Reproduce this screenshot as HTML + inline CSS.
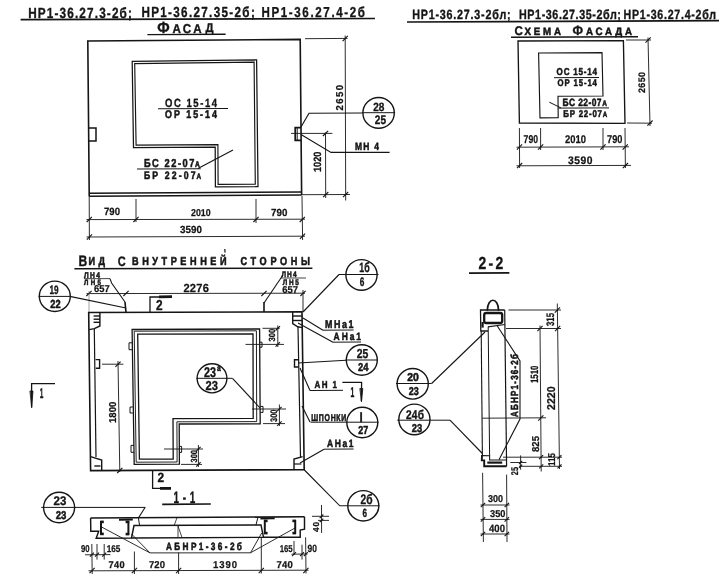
<!DOCTYPE html>
<html lang="ru">
<head>
<meta charset="utf-8">
<title>НР1-36.27 — фасад, вид с внутренней стороны, разрезы</title>
<style>
html,body{margin:0;padding:0;background:#fff;}
body{width:725px;height:583px;overflow:hidden;}
svg{display:block;filter:grayscale(1);}
svg text{font-family:"Liberation Sans",sans-serif;font-weight:700;text-rendering:geometricPrecision;fill:#151515;stroke:#151515;stroke-width:0.35px;stroke-linejoin:round;}
svg text.d{stroke-width:0.25px;}
svg .s{stroke-width:0.55px;}
</style>
</head>
<body>
<svg width="725" height="583" viewBox="0 0 725 583">
<rect x="0" y="0" width="725" height="583" fill="#ffffff"/>
<text transform="translate(28.2 17.5) scale(0.800 1)"><tspan x="0" y="0" font-size="14.71" letter-spacing="1.43">НР1-36.27.3-2б;</tspan> <tspan x="141.5" y="-0.2" font-size="14.57" letter-spacing="1.67">НР1-36.27.35-2б;</tspan> <tspan x="291.5" y="-0.4" font-size="14.43" letter-spacing="2.06">НР1-36.27.4-2б</tspan></text>
<line x1="20.6" y1="19.6" x2="375" y2="18.5" stroke="#151515" stroke-width="1.6"/>
<text transform="translate(157.2 33.3) scale(0.900 1)"><tspan x="0" y="0" font-size="16.14">Ф</tspan><tspan x="16.89" y="-0.5" font-size="12.86" letter-spacing="2.61">АСА</tspan><tspan x="53.78" y="-0.9" font-size="12.57">Д</tspan></text>
<line x1="147.4" y1="34.6" x2="225.6" y2="34.3" stroke="#151515" stroke-width="1.4"/>
<polyline points="89.2,193.2 87.8,41 300.2,39.4 301.6,192" fill="none" stroke="#151515" stroke-width="1.6" stroke-linejoin="miter"/>
<line x1="89.2" y1="193.2" x2="301.6" y2="192" stroke="#151515" stroke-width="1.6"/>
<line x1="89.2" y1="196.2" x2="301.7" y2="195" stroke="#151515" stroke-width="1.6"/>
<line x1="89.2" y1="193" x2="89.2" y2="196.2" stroke="#151515" stroke-width="1.6"/>
<line x1="301.6" y1="192" x2="301.7" y2="195" stroke="#151515" stroke-width="1.6"/>
<polyline points="89,128 96,128 96,141 89,141" fill="none" stroke="#151515" stroke-width="1.5" stroke-linejoin="miter"/>
<polyline points="301,127.6 295.2,127.6 295.2,140.4 301,140.4" fill="none" stroke="#151515" stroke-width="1.7" stroke-linejoin="miter"/>
<line x1="297.2" y1="128" x2="297.2" y2="140" stroke="#151515" stroke-width="1"/>
<polygon points="132.2,61.4 256.6,59.8 258,186.6 215.4,186.9 215.2,147.1 133.5,147.5" fill="none" stroke="#151515" stroke-width="1.25" stroke-linejoin="miter"/>
<polygon points="134.7,63.6 254.1,62.2 255.3,184.1 218.1,184.4 217.9,144.7 136.1,145.1" fill="none" stroke="#151515" stroke-width="1.15" stroke-linejoin="miter"/>
<text transform="translate(165 106.5) scale(0.800 1)" font-size="11.86" letter-spacing="1.94">ОС 15-14</text>
<line x1="158" y1="108.7" x2="228" y2="108.5" stroke="#151515" stroke-width="1.1"/>
<text class="s" transform="translate(165 118.2) scale(0.800 1)" font-size="11.14" letter-spacing="2.47">ОР 15-14</text>
<text transform="translate(144 166.9) scale(0.800 1)"><tspan class="s" x="0" y="0" font-size="11.57" letter-spacing="1.97">БС 22-07</tspan><tspan class="s" x="63.75" y="-0.1" font-size="8.29">А</tspan></text>
<line x1="137" y1="169" x2="200.7" y2="168.7" stroke="#151515" stroke-width="1.1"/>
<text transform="translate(144 178.8) scale(0.800 1)"><tspan class="s" x="0" y="0" font-size="10.86" letter-spacing="2.65">БР 22-07</tspan><tspan class="s" x="65.62" y="0.6" font-size="8">А</tspan></text>
<line x1="198" y1="168.4" x2="233" y2="150" stroke="#151515" stroke-width="1.1"/>
<line x1="89.2" y1="196" x2="89.4" y2="240" stroke="#151515" stroke-width="0.9"/>
<line x1="136" y1="199" x2="136" y2="222" stroke="#151515" stroke-width="0.9"/>
<line x1="256" y1="199" x2="256" y2="223" stroke="#151515" stroke-width="0.9"/>
<line x1="302" y1="196" x2="302.6" y2="240" stroke="#151515" stroke-width="0.9"/>
<line x1="86.5" y1="219.6" x2="305" y2="219.2" stroke="#151515" stroke-width="0.9"/>
<line x1="86.7" y1="222" x2="91.9" y2="216.8" stroke="#151515" stroke-width="1.1"/>
<line x1="133.4" y1="222" x2="138.6" y2="216.8" stroke="#151515" stroke-width="1.1"/>
<line x1="253.4" y1="222" x2="258.6" y2="216.8" stroke="#151515" stroke-width="1.1"/>
<line x1="299.7" y1="222" x2="304.9" y2="216.8" stroke="#151515" stroke-width="1.1"/>
<line x1="86.5" y1="237" x2="305" y2="236.2" stroke="#151515" stroke-width="0.9"/>
<line x1="86.8" y1="239.6" x2="92" y2="234.4" stroke="#151515" stroke-width="1.1"/>
<line x1="299.9" y1="238.9" x2="305.1" y2="233.7" stroke="#151515" stroke-width="1.1"/>
<text class="d" transform="translate(104 215.4) scale(0.907 1)" font-size="10.57">790</text>
<text class="d" transform="translate(191 216) scale(0.881 1)" font-size="10">2010</text>
<text class="d" transform="translate(271 215.6) scale(0.950 1)" font-size="10.29" letter-spacing="0.05">790</text>
<text class="d" transform="translate(180 232.8) scale(0.950 1)" font-size="10.29" letter-spacing="0.09">3590</text>
<line x1="305" y1="38.7" x2="347.5" y2="38.4" stroke="#151515" stroke-width="0.9"/>
<line x1="302" y1="194.7" x2="350" y2="194.5" stroke="#151515" stroke-width="0.9"/>
<line x1="345.2" y1="35.5" x2="345.7" y2="200.5" stroke="#151515" stroke-width="0.9"/>
<line x1="342.6" y1="41.1" x2="347.8" y2="35.9" stroke="#151515" stroke-width="1.1"/>
<line x1="343" y1="197.2" x2="348.2" y2="192" stroke="#151515" stroke-width="1.1"/>
<text class="d" transform="translate(342.6 110.6) rotate(-90) scale(0.950 1)" font-size="10" letter-spacing="1.57">2650</text>
<line x1="291" y1="133.4" x2="332.4" y2="133.4" stroke="#151515" stroke-width="0.9"/>
<line x1="325.5" y1="132.6" x2="325.7" y2="198" stroke="#151515" stroke-width="0.9"/>
<line x1="322.9" y1="136" x2="328.1" y2="130.8" stroke="#151515" stroke-width="1.1"/>
<line x1="323.1" y1="197.2" x2="328.3" y2="192" stroke="#151515" stroke-width="1.1"/>
<text class="d" transform="translate(321 172) rotate(-90) scale(0.868 1)" font-size="10.57">1020</text>
<text class="s" transform="translate(355 150.4) scale(0.800 1)" font-size="10.57" letter-spacing="1.58">МН 4</text>
<polyline points="301,134.4 331,152.4 389.6,152.4" fill="none" stroke="#151515" stroke-width="1.15" stroke-linejoin="miter"/>
<polyline points="301,127 309,113.2 362,113" fill="none" stroke="#151515" stroke-width="1.15" stroke-linejoin="miter"/>
<ellipse cx="378.6" cy="112.9" rx="15.7" ry="15.4" fill="none" stroke="#151515" stroke-width="1.4"/>
<line x1="362" y1="112.7" x2="395.1" y2="112.7" stroke="#151515" stroke-width="1"/>
<text transform="translate(373.2 110.7) scale(0.839 1)" font-size="12">28</text>
<text transform="translate(374.8 124.4) scale(0.810 1)" font-size="12.43">25</text>
<text transform="translate(412.2 18.9) scale(0.800 1)"><tspan x="0" y="0" font-size="13.43" letter-spacing="0.98">НР1-36.27.3-2бл;</tspan> <tspan x="133.5" y="-0.1" font-size="13.43" letter-spacing="0.73">НР1-36.27.35-2бл;</tspan> <tspan x="264.25" y="-0.4" font-size="13.29" letter-spacing="0.91">НР1-36.27.4-2бл</tspan></text>
<line x1="407" y1="22" x2="719" y2="20.7" stroke="#151515" stroke-width="1.7"/>
<text transform="translate(514.6 35) scale(0.920 1)"><tspan x="0" y="0" font-size="12.57">С</tspan><tspan class="s" x="10.87" y="-0.1" font-size="10.57" letter-spacing="3.01">ХЕМА</tspan> <tspan x="63.04" y="0.4" font-size="13.43">Ф</tspan><tspan class="s" x="77.61" y="-0.1" font-size="10.57" letter-spacing="3.02">АСАДА</tspan></text>
<line x1="511" y1="37.2" x2="638" y2="36.8" stroke="#151515" stroke-width="1.4"/>
<polygon points="518,41 623.4,40.6 625,123.4 519.4,123" fill="none" stroke="#151515" stroke-width="1.35" stroke-linejoin="miter"/>
<polygon points="538.6,53 602,52.6 603,96 558,96.2 558.2,117.6 540,117.8" fill="none" stroke="#151515" stroke-width="1.15" stroke-linejoin="miter"/>
<text class="s" transform="translate(556.6 74.6) scale(0.800 1)" font-size="10" letter-spacing="1.02">ОС 15-14</text>
<line x1="554" y1="77.7" x2="599" y2="77.5" stroke="#151515" stroke-width="1"/>
<text class="s" transform="translate(557.5 86.4) scale(0.800 1)" font-size="9.71" letter-spacing="1.11">ОР 15-14</text>
<text transform="translate(562.6 105.9) scale(0.800 1)"><tspan class="s" x="0" y="0" font-size="10.57" letter-spacing="0.51">БС 22-07</tspan><tspan class="s" x="49.5" y="0.2" font-size="8.14">А</tspan></text>
<line x1="558.4" y1="108.1" x2="609" y2="107.9" stroke="#151515" stroke-width="1"/>
<text transform="translate(563.2 116.6) scale(0.800 1)"><tspan class="s" x="0" y="0" font-size="9.86" letter-spacing="0.98">БР 22-07</tspan><tspan class="s" x="49.5" y="0.2" font-size="7.71">А</tspan></text>
<line x1="549.3" y1="102.2" x2="561" y2="107.9" stroke="#151515" stroke-width="1"/>
<line x1="519.4" y1="128" x2="519.6" y2="168" stroke="#151515" stroke-width="0.9"/>
<line x1="540.6" y1="128" x2="540.6" y2="150" stroke="#151515" stroke-width="0.9"/>
<line x1="603" y1="128" x2="603" y2="150" stroke="#151515" stroke-width="0.9"/>
<line x1="625" y1="128" x2="625.4" y2="168" stroke="#151515" stroke-width="0.9"/>
<line x1="516.5" y1="147.2" x2="629" y2="146.8" stroke="#151515" stroke-width="0.9"/>
<line x1="516.5" y1="165.8" x2="631" y2="165.4" stroke="#151515" stroke-width="0.9"/>
<line x1="516.9" y1="149.6" x2="522.1" y2="144.4" stroke="#151515" stroke-width="1.1"/>
<line x1="538" y1="149.6" x2="543.2" y2="144.4" stroke="#151515" stroke-width="1.1"/>
<line x1="600.4" y1="149.6" x2="605.6" y2="144.4" stroke="#151515" stroke-width="1.1"/>
<line x1="622.6" y1="149.6" x2="627.8" y2="144.4" stroke="#151515" stroke-width="1.1"/>
<line x1="517" y1="168.2" x2="522.2" y2="163" stroke="#151515" stroke-width="1.1"/>
<line x1="622.8" y1="168.2" x2="628" y2="163" stroke="#151515" stroke-width="1.1"/>
<text class="d" transform="translate(523.6 143) scale(0.755 1)" font-size="11.43">790</text>
<text class="d" transform="translate(565 143.2) scale(0.847 1)" font-size="11.14">2010</text>
<text class="d" transform="translate(607 143) scale(0.808 1)" font-size="11.43">790</text>
<text class="d" transform="translate(568 163.6) scale(0.950 1)" font-size="10.86" letter-spacing="0.51">3590</text>
<line x1="626" y1="40" x2="651" y2="40" stroke="#151515" stroke-width="0.9"/>
<line x1="627" y1="123" x2="652" y2="123.2" stroke="#151515" stroke-width="0.9"/>
<line x1="648" y1="37.5" x2="650" y2="126" stroke="#151515" stroke-width="0.9"/>
<line x1="645.5" y1="42.6" x2="650.7" y2="37.4" stroke="#151515" stroke-width="1.1"/>
<line x1="647.4" y1="125.7" x2="652.6" y2="120.5" stroke="#151515" stroke-width="1.1"/>
<text class="d" transform="translate(645 93) rotate(-90) scale(0.950 1)" font-size="9.43" letter-spacing="0.38">2650</text>
<text transform="translate(78.4 265.6) scale(0.800 1)"><tspan x="0" y="0" font-size="15.14">В</tspan><tspan class="s" x="12.5" y="-0.2" font-size="11.43" letter-spacing="4.39">ИД</tspan> <tspan x="49.25" y="0.3" font-size="13.71">С</tspan> <tspan class="s" x="67" y="-0.4" font-size="11.43" letter-spacing="4.45">ВНУТРЕННЕЙ</tspan> <tspan class="s" x="202.75" y="-0.6" font-size="11.43" letter-spacing="4.56">СТОРОНЫ</tspan></text>
<line x1="224.8" y1="249" x2="225.1" y2="252.6" stroke="#151515" stroke-width="1.2"/>
<line x1="74.4" y1="268.8" x2="312.4" y2="268.2" stroke="#151515" stroke-width="1.5"/>
<polygon points="88.7,312.5 302,311.8 304.2,469.7 90.6,470.6" fill="none" stroke="#151515" stroke-width="1.6" stroke-linejoin="miter"/>
<line x1="94.3" y1="329" x2="96" y2="457" stroke="#151515" stroke-width="1.2"/>
<line x1="298" y1="327" x2="300.5" y2="457" stroke="#151515" stroke-width="1.2"/>
<polyline points="99.9,312.5 99.9,326 94.3,328.6 89.2,329.6" fill="none" stroke="#151515" stroke-width="1.4" stroke-linejoin="miter"/>
<line x1="93.6" y1="316" x2="99.9" y2="316" stroke="#151515" stroke-width="1.4"/>
<line x1="93.6" y1="319.2" x2="99.9" y2="319.2" stroke="#151515" stroke-width="1.4"/>
<line x1="93.6" y1="322.3" x2="99.9" y2="322.3" stroke="#151515" stroke-width="1.4"/>
<polyline points="292.7,312 292.7,323.6 297.7,326.8 302.3,327.6" fill="none" stroke="#151515" stroke-width="1.4" stroke-linejoin="miter"/>
<line x1="292.7" y1="316" x2="302" y2="316" stroke="#151515" stroke-width="1.4"/>
<line x1="292.7" y1="320.5" x2="302" y2="320.5" stroke="#151515" stroke-width="1.4"/>
<polyline points="90.5,456.6 101.7,460 101.7,470.5" fill="none" stroke="#151515" stroke-width="1.4" stroke-linejoin="miter"/>
<line x1="94.3" y1="466" x2="100.5" y2="466" stroke="#151515" stroke-width="1.4"/>
<polyline points="294,470 294,459 302.6,456.6" fill="none" stroke="#151515" stroke-width="1.4" stroke-linejoin="miter"/>
<line x1="294" y1="464" x2="301.4" y2="464" stroke="#151515" stroke-width="1.2"/>
<polyline points="95.6,359.6 99.6,359.6 99.6,368.3 95.8,368.3" fill="none" stroke="#151515" stroke-width="1.4" stroke-linejoin="miter"/>
<polyline points="298.4,359.8 294.5,359.8 294.5,367 298.6,367" fill="none" stroke="#151515" stroke-width="1.4" stroke-linejoin="miter"/>
<polygon points="132.1,329.5 259.6,329 260.2,423.8 179.2,424 179.4,464.2 134.2,464.4" fill="none" stroke="#151515" stroke-width="1.3" stroke-linejoin="miter"/>
<polygon points="134.2,331.2 256.4,330.8 256.7,421.6 176.9,421.8 177.1,462 136.2,462.2" fill="none" stroke="#151515" stroke-width="0.95" stroke-linejoin="miter"/>
<polygon points="137.7,334.1 253,333.9 253.2,418.4 173,418.6 173.2,459 139.4,459.2" fill="none" stroke="#151515" stroke-width="1.3" stroke-linejoin="miter"/>
<polyline points="132.3,342.8 129,342.8 129,349.7 132.3,349.7" fill="none" stroke="#151515" stroke-width="1" stroke-linejoin="miter"/>
<polyline points="132.8,407 130,407 130,413 132.8,413" fill="none" stroke="#151515" stroke-width="1" stroke-linejoin="miter"/>
<polyline points="134,445.4 131,445.4 131,452.3 134,452.3" fill="none" stroke="#151515" stroke-width="1" stroke-linejoin="miter"/>
<polyline points="259.8,342.2 262,342.2 262,347.2 259.8,347.2" fill="none" stroke="#151515" stroke-width="1" stroke-linejoin="miter"/>
<polyline points="260.2,406.4 263,406.4 263,412.4 260.2,412.4" fill="none" stroke="#151515" stroke-width="1" stroke-linejoin="miter"/>
<polyline points="179.2,446.4 181.6,446.4 181.6,452.4 179.2,452.4" fill="none" stroke="#151515" stroke-width="1" stroke-linejoin="miter"/>
<line x1="86.5" y1="293.6" x2="305" y2="293.2" stroke="#151515" stroke-width="0.9"/>
<line x1="86.4" y1="296" x2="91.6" y2="290.8" stroke="#151515" stroke-width="1.1"/>
<line x1="123.4" y1="296" x2="128.6" y2="290.8" stroke="#151515" stroke-width="1.1"/>
<line x1="261.4" y1="296" x2="266.6" y2="290.8" stroke="#151515" stroke-width="1.1"/>
<line x1="300.4" y1="296" x2="305.6" y2="290.8" stroke="#151515" stroke-width="1.1"/>
<line x1="89" y1="291" x2="89" y2="312" stroke="#666" stroke-width="0.6"/>
<line x1="303" y1="290" x2="303" y2="312" stroke="#151515" stroke-width="0.9"/>
<text class="d" transform="translate(94 292) scale(0.935 1)" font-size="10">657</text>
<text class="d" transform="translate(183.4 292) scale(0.950 1)" font-size="11.71" letter-spacing="0.3">2276</text>
<text class="d" transform="translate(282.2 292.6) scale(0.947 1)" font-size="10">657</text>
<text class="s" transform="translate(84 277.6) scale(0.800 1)" font-size="8.29" letter-spacing="1.8">ЛН4</text>
<line x1="84" y1="278.7" x2="110" y2="278.6" stroke="#151515" stroke-width="0.8"/>
<text class="s" transform="translate(84 285.2) scale(0.800 1)" font-size="7.71" letter-spacing="2.99">ЛН5</text>
<polyline points="110,278.6 111.6,283 125,302" fill="none" stroke="#151515" stroke-width="1.1" stroke-linejoin="miter"/>
<line x1="125" y1="302" x2="126" y2="312.4" stroke="#151515" stroke-width="1.6"/>
<text class="s" transform="translate(281.4 276.5) scale(0.800 1)" font-size="8.14" letter-spacing="1.44">ЛН4</text>
<line x1="281" y1="278" x2="306" y2="278" stroke="#151515" stroke-width="0.8"/>
<text class="s" transform="translate(282.8 285.4) scale(0.800 1)" font-size="8" letter-spacing="2.08">ЛН5</text>
<line x1="283" y1="275" x2="264" y2="303" stroke="#151515" stroke-width="1.1"/>
<line x1="264" y1="302" x2="264" y2="312" stroke="#151515" stroke-width="1.6"/>
<ellipse cx="54.8" cy="296.3" rx="15.5" ry="15.2" fill="none" stroke="#151515" stroke-width="1.4"/>
<line x1="38.6" y1="296.4" x2="71" y2="296.4" stroke="#151515" stroke-width="1"/>
<line x1="71" y1="296.6" x2="126" y2="308" stroke="#151515" stroke-width="1.1"/>
<text transform="translate(49.5 294) scale(0.666 1)" font-size="12.29">19</text>
<text class="s" transform="translate(50.3 308) scale(0.791 1)" font-size="11.71">22</text>
<ellipse cx="361.5" cy="274.9" rx="15.6" ry="15.3" fill="none" stroke="#151515" stroke-width="1.4"/>
<line x1="339" y1="274.5" x2="378.5" y2="274.5" stroke="#151515" stroke-width="1"/>
<line x1="339" y1="274.5" x2="303" y2="312" stroke="#151515" stroke-width="1.1"/>
<text transform="translate(359.3 271.9) scale(0.653 1)" font-size="13.57">1б</text>
<text transform="translate(359.7 286.4) scale(0.666 1)" font-size="12.43">6</text>
<polyline points="150,312 150,297 172,297" fill="none" stroke="#151515" stroke-width="1.3" stroke-linejoin="miter"/>
<line x1="159" y1="296.8" x2="172" y2="296.6" stroke="#151515" stroke-width="2.8"/>
<text transform="translate(156 310) scale(0.831 1)" font-size="14.29">2</text>
<polyline points="152.6,471 152.6,488.4 171,488.4" fill="none" stroke="#151515" stroke-width="1.3" stroke-linejoin="miter"/>
<line x1="160" y1="488.4" x2="171" y2="488.4" stroke="#151515" stroke-width="2.8"/>
<text transform="translate(157.4 482.4) scale(0.884 1)" font-size="13.43">2</text>
<text class="s" transform="translate(325 328.4) scale(0.800 1)" font-size="11.14" letter-spacing="2.01">МНа1</text>
<line x1="323" y1="330.2" x2="353.6" y2="330" stroke="#151515" stroke-width="1"/>
<line x1="303" y1="318" x2="323" y2="330.2" stroke="#151515" stroke-width="1.1"/>
<text class="s" transform="translate(333.6 340) scale(0.800 1)" font-size="10.57" letter-spacing="2.41">АНа1</text>
<line x1="333" y1="342.2" x2="361" y2="342" stroke="#151515" stroke-width="1"/>
<line x1="298" y1="323" x2="333" y2="342.2" stroke="#151515" stroke-width="1.1"/>
<ellipse cx="361.8" cy="360" rx="15.5" ry="15.2" fill="none" stroke="#151515" stroke-width="1.4"/>
<line x1="345.7" y1="360" x2="378" y2="360" stroke="#151515" stroke-width="1"/>
<line x1="346" y1="360.2" x2="298" y2="363" stroke="#151515" stroke-width="1.1"/>
<text transform="translate(356.8 357.9) scale(0.802 1)" font-size="13">25</text>
<text class="s" transform="translate(358 371.2) scale(0.818 1)" font-size="11.43">24</text>
<text class="s" transform="translate(314.4 388) scale(0.800 1)" font-size="10" letter-spacing="1.82">АН 1</text>
<line x1="310" y1="390.5" x2="343" y2="390.3" stroke="#151515" stroke-width="1"/>
<line x1="300" y1="368" x2="310" y2="390.5" stroke="#151515" stroke-width="1.1"/>
<polyline points="342.4,382.4 361.6,382.4 361.4,401" fill="none" stroke="#151515" stroke-width="1.3" stroke-linejoin="miter"/>
<path d="M360.2,388.5 L362.8,388.5 L361.5,401.5 Z" fill="#151515" stroke="#151515" stroke-width="0.8" stroke-linecap="round"/>
<text transform="translate(350.6 397) scale(0.478 1)" font-size="14.29">1</text>
<polyline points="55,383.6 31.6,383.6 31.6,407" fill="none" stroke="#151515" stroke-width="1.3" stroke-linejoin="miter"/>
<path d="M30.3,391 L33,391 L31.7,407.5 Z" fill="#151515" stroke="#151515" stroke-width="0.8" stroke-linecap="round"/>
<text transform="translate(39.8 398) scale(0.453 1)" font-size="14.29">1</text>
<ellipse cx="362.3" cy="422.5" rx="15.5" ry="15.2" fill="none" stroke="#151515" stroke-width="1.4"/>
<line x1="310.5" y1="422.2" x2="378.5" y2="422.2" stroke="#151515" stroke-width="1"/>
<line x1="302" y1="406" x2="310" y2="422" stroke="#151515" stroke-width="1.1"/>
<text class="s" transform="translate(311.2 420.7) scale(0.700 1)" font-size="9.86" letter-spacing="1.05">ШПОНКИ</text>
<text transform="translate(359.4 421.6) scale(0.806 1)" font-size="14.29">I</text>
<text class="s" transform="translate(358.3 433.8) scale(0.777 1)" font-size="11.57">27</text>
<text class="s" transform="translate(327 447) scale(0.800 1)" font-size="10.57" letter-spacing="2.07">АНа1</text>
<line x1="324" y1="449.2" x2="353.6" y2="449" stroke="#151515" stroke-width="1"/>
<line x1="324" y1="449.2" x2="300" y2="463" stroke="#151515" stroke-width="1.1"/>
<polyline points="304.4,470 339.8,505.8 347.6,505.8" fill="none" stroke="#151515" stroke-width="1.1" stroke-linejoin="miter"/>
<ellipse cx="363.3" cy="505.8" rx="15.5" ry="15.2" fill="none" stroke="#151515" stroke-width="1.4"/>
<line x1="347.6" y1="505.8" x2="379.5" y2="505.8" stroke="#151515" stroke-width="1"/>
<text transform="translate(360.5 503.7) scale(0.738 1)" font-size="13.86">2б</text>
<text transform="translate(362.6 517.2) scale(0.682 1)" font-size="11.86">6</text>
<line x1="102" y1="364.2" x2="123.4" y2="364.2" stroke="#151515" stroke-width="0.9"/>
<line x1="118" y1="361" x2="119.8" y2="472" stroke="#151515" stroke-width="0.9"/>
<line x1="115.4" y1="366.8" x2="120.6" y2="361.6" stroke="#151515" stroke-width="1.1"/>
<line x1="117.2" y1="473" x2="122.4" y2="467.8" stroke="#151515" stroke-width="1.1"/>
<text class="d" transform="translate(116 423) rotate(-90) scale(0.950 1)" font-size="10" letter-spacing="0.09">1800</text>
<line x1="262.5" y1="328.3" x2="279.7" y2="328.3" stroke="#151515" stroke-width="0.9"/>
<line x1="245.5" y1="344.4" x2="284" y2="344.4" stroke="#151515" stroke-width="0.9"/>
<line x1="277.8" y1="325.5" x2="277.8" y2="347" stroke="#151515" stroke-width="0.9"/>
<line x1="275.6" y1="330.5" x2="280" y2="326.1" stroke="#151515" stroke-width="1.1"/>
<line x1="275.6" y1="346.6" x2="280" y2="342.2" stroke="#151515" stroke-width="1.1"/>
<text class="d" transform="translate(274.7 341.6) rotate(-90) scale(0.866 1)" font-size="8.86">300</text>
<line x1="252" y1="409" x2="286" y2="409" stroke="#151515" stroke-width="0.9"/>
<line x1="263" y1="423.6" x2="285" y2="423.6" stroke="#151515" stroke-width="0.9"/>
<line x1="279.4" y1="404.5" x2="279.4" y2="426" stroke="#151515" stroke-width="0.9"/>
<line x1="277.2" y1="411.2" x2="281.6" y2="406.8" stroke="#151515" stroke-width="1.1"/>
<line x1="277.2" y1="425.8" x2="281.6" y2="421.4" stroke="#151515" stroke-width="1.1"/>
<text class="d" transform="translate(277 422) rotate(-90) scale(0.788 1)" font-size="9.43">300</text>
<line x1="164" y1="449" x2="203" y2="449" stroke="#151515" stroke-width="0.9"/>
<line x1="198.4" y1="445" x2="198.4" y2="467" stroke="#151515" stroke-width="0.9"/>
<line x1="196.2" y1="451.2" x2="200.6" y2="446.8" stroke="#151515" stroke-width="1.1"/>
<line x1="196.2" y1="466.6" x2="200.6" y2="462.2" stroke="#151515" stroke-width="1.1"/>
<line x1="181" y1="464.4" x2="202" y2="464.4" stroke="#151515" stroke-width="0.9"/>
<text class="d" transform="translate(196.8 462.4) rotate(-90) scale(0.839 1)" font-size="8.86">300</text>
<ellipse cx="212" cy="378.3" rx="14.9" ry="14.6" fill="none" stroke="#151515" stroke-width="1.4"/>
<line x1="196.5" y1="378.3" x2="232.5" y2="378.3" stroke="#151515" stroke-width="1"/>
<line x1="232.5" y1="378.3" x2="260" y2="408" stroke="#151515" stroke-width="1.1"/>
<text transform="translate(204 376.8) scale(0.771 1)"><tspan x="0" y="0" font-size="14">23</tspan><tspan class="s" x="16.87" y="-5.4" font-size="8.57">а</tspan></text>
<text transform="translate(205.6 390.4) scale(0.867 1)" font-size="12.86">23</text>
<ellipse cx="59.1" cy="507.5" rx="15.5" ry="15.2" fill="none" stroke="#151515" stroke-width="1.4"/>
<line x1="41.2" y1="507.4" x2="145.2" y2="507.4" stroke="#151515" stroke-width="1"/>
<line x1="145.2" y1="507.2" x2="138.4" y2="518" stroke="#151515" stroke-width="1.1"/>
<text transform="translate(53.6 504.7) scale(0.926 1)" font-size="12.43">23</text>
<text class="s" transform="translate(55.7 519.2) scale(0.852 1)" font-size="11.29">23</text>
<text transform="translate(173.6 502.6) scale(0.600 1)" font-size="16.57" letter-spacing="6.11">1-1</text>
<line x1="162.2" y1="504.4" x2="210.8" y2="504" stroke="#151515" stroke-width="1.6"/>
<line x1="90.6" y1="518" x2="304.5" y2="516.8" stroke="#151515" stroke-width="1.6"/>
<polyline points="90.6,518 90.8,531.3 98.7,531.3 96.2,538.3 131.5,538 134,525.5 256,524.9 261,524.9 263.5,537.3 300.2,537.3 300.2,530 304.5,529.2 304.5,516.8" fill="none" stroke="#151515" stroke-width="1.45" stroke-linejoin="miter"/>
<line x1="131.5" y1="538" x2="263.5" y2="537.3" stroke="#151515" stroke-width="1.3"/>
<line x1="138.4" y1="518" x2="139.6" y2="525.4" stroke="#151515" stroke-width="1"/>
<line x1="258" y1="517" x2="256" y2="524.9" stroke="#151515" stroke-width="1"/>
<line x1="177" y1="517.6" x2="174" y2="526" stroke="#151515" stroke-width="0.8"/>
<line x1="178" y1="526" x2="178" y2="537.6" stroke="#151515" stroke-width="0.8"/>
<line x1="178" y1="526" x2="182" y2="537.6" stroke="#151515" stroke-width="0.8"/>
<line x1="101" y1="521" x2="101" y2="534.8" stroke="#151515" stroke-width="2"/>
<line x1="100.2" y1="521.9" x2="103.8" y2="521.9" stroke="#151515" stroke-width="2.6"/>
<line x1="100.2" y1="533.9" x2="103.8" y2="533.9" stroke="#151515" stroke-width="2.6"/>
<line x1="128.4" y1="521" x2="128.4" y2="535" stroke="#151515" stroke-width="2"/>
<line x1="129.2" y1="521.9" x2="125.6" y2="521.9" stroke="#151515" stroke-width="2.6"/>
<line x1="129.2" y1="534.1" x2="125.6" y2="534.1" stroke="#151515" stroke-width="2.6"/>
<line x1="119" y1="519.7" x2="132.8" y2="519.6" stroke="#151515" stroke-width="2"/>
<line x1="264.8" y1="520" x2="264.8" y2="534" stroke="#151515" stroke-width="2"/>
<line x1="264" y1="520.9" x2="267.6" y2="520.9" stroke="#151515" stroke-width="2.6"/>
<line x1="264" y1="533.1" x2="267.6" y2="533.1" stroke="#151515" stroke-width="2.6"/>
<line x1="295.2" y1="520" x2="295.2" y2="534" stroke="#151515" stroke-width="2"/>
<line x1="296" y1="520.9" x2="292.4" y2="520.9" stroke="#151515" stroke-width="2.6"/>
<line x1="296" y1="533.1" x2="292.4" y2="533.1" stroke="#151515" stroke-width="2.6"/>
<line x1="260.4" y1="518.4" x2="274.7" y2="518.2" stroke="#151515" stroke-width="2"/>
<text class="s" transform="translate(166 550.4) scale(0.780 1)" font-size="10.57" letter-spacing="3.04">АБНР1-36-2б</text>
<line x1="150" y1="552.9" x2="250.5" y2="552.8" stroke="#151515" stroke-width="0.9"/>
<line x1="150" y1="552.9" x2="101" y2="526.7" stroke="#151515" stroke-width="0.9"/>
<line x1="150" y1="552.9" x2="131.5" y2="534" stroke="#151515" stroke-width="0.9"/>
<line x1="250.5" y1="552.8" x2="261.7" y2="533" stroke="#151515" stroke-width="0.9"/>
<line x1="250.5" y1="552.8" x2="295" y2="528" stroke="#151515" stroke-width="0.9"/>
<line x1="85" y1="554.8" x2="110.4" y2="554.6" stroke="#151515" stroke-width="0.9"/>
<line x1="91.8" y1="544" x2="92.2" y2="574" stroke="#151515" stroke-width="0.9"/>
<line x1="97" y1="544" x2="97" y2="559.6" stroke="#151515" stroke-width="0.9"/>
<line x1="104.2" y1="544" x2="104.2" y2="559.6" stroke="#151515" stroke-width="0.9"/>
<line x1="89.9" y1="556.7" x2="93.9" y2="552.7" stroke="#151515" stroke-width="1.1"/>
<line x1="95" y1="556.7" x2="99" y2="552.7" stroke="#151515" stroke-width="1.1"/>
<line x1="102.2" y1="556.7" x2="106.2" y2="552.7" stroke="#151515" stroke-width="1.1"/>
<text class="d" transform="translate(81 552) scale(0.773 1)" font-size="10">90</text>
<text class="d" transform="translate(106.7 551.6) scale(0.833 1)" font-size="9.86">165</text>
<line x1="88.5" y1="570.8" x2="308.5" y2="570.2" stroke="#151515" stroke-width="0.9"/>
<line x1="134.4" y1="551.5" x2="134.4" y2="574" stroke="#151515" stroke-width="0.9"/>
<line x1="178.6" y1="552.5" x2="178.6" y2="574" stroke="#151515" stroke-width="0.9"/>
<line x1="261.3" y1="537.3" x2="261.3" y2="573.5" stroke="#151515" stroke-width="0.9"/>
<line x1="305.6" y1="537.3" x2="306" y2="573.5" stroke="#151515" stroke-width="0.9"/>
<line x1="89.5" y1="573.1" x2="94.7" y2="567.9" stroke="#151515" stroke-width="1.1"/>
<line x1="131.8" y1="573.1" x2="137" y2="567.9" stroke="#151515" stroke-width="1.1"/>
<line x1="176" y1="573.1" x2="181.2" y2="567.9" stroke="#151515" stroke-width="1.1"/>
<line x1="258.7" y1="573.1" x2="263.9" y2="567.9" stroke="#151515" stroke-width="1.1"/>
<line x1="303.3" y1="573.1" x2="308.5" y2="567.9" stroke="#151515" stroke-width="1.1"/>
<text class="d" transform="translate(108.6 567.8) scale(0.950 1)" font-size="9.71" letter-spacing="0.37">740</text>
<text class="d" transform="translate(149 568.2) scale(0.950 1)" font-size="10" letter-spacing="0.08">720</text>
<text class="d" transform="translate(213 568.2) scale(0.950 1)" font-size="10" letter-spacing="1.01">1390</text>
<text class="d" transform="translate(276.6 568) scale(0.950 1)" font-size="10" letter-spacing="0.13">740</text>
<line x1="291.5" y1="554.2" x2="307.5" y2="554" stroke="#151515" stroke-width="0.9"/>
<line x1="294" y1="541" x2="294" y2="555" stroke="#151515" stroke-width="0.9"/>
<line x1="302" y1="544.7" x2="302" y2="559.6" stroke="#151515" stroke-width="0.9"/>
<line x1="292" y1="556.1" x2="296" y2="552.1" stroke="#151515" stroke-width="1.1"/>
<line x1="300" y1="556.1" x2="304" y2="552.1" stroke="#151515" stroke-width="1.1"/>
<line x1="303.8" y1="556.1" x2="307.8" y2="552.1" stroke="#151515" stroke-width="1.1"/>
<text class="d" transform="translate(279.7 551.5) scale(0.779 1)" font-size="10">165</text>
<text class="d" transform="translate(307.6 551.8) scale(0.799 1)" font-size="10.57">90</text>
<line x1="321.5" y1="505" x2="321.6" y2="533" stroke="#151515" stroke-width="0.9"/>
<line x1="312" y1="516.3" x2="329" y2="516.3" stroke="#151515" stroke-width="0.9"/>
<line x1="318" y1="520.4" x2="329" y2="520.4" stroke="#151515" stroke-width="0.9"/>
<line x1="319.7" y1="518.1" x2="323.3" y2="514.5" stroke="#151515" stroke-width="1.1"/>
<line x1="319.7" y1="522.2" x2="323.3" y2="518.6" stroke="#151515" stroke-width="1.1"/>
<text class="d" transform="translate(319 532) rotate(-90) scale(0.950 1)" font-size="8.57" letter-spacing="0.99">40</text>
<text transform="translate(478.6 269.2) scale(0.800 1)" font-size="17.43" letter-spacing="2.78">2-2</text>
<line x1="469" y1="273.1" x2="509.4" y2="272.8" stroke="#151515" stroke-width="1.8"/>
<polyline points="488,331 480.8,331 480.5,310 504.7,310" fill="none" stroke="#151515" stroke-width="1.3" stroke-linejoin="miter"/>
<path d="M487.4,310 C487.6,297 498.3,297 498.5,310" fill="none" stroke="#151515" stroke-width="1.7" stroke-linecap="round"/>
<rect x="484.2" y="313" width="18" height="10" rx="2" ry="2" fill="none" stroke="#151515" stroke-width="2.3"/>
<line x1="482.6" y1="322" x2="482.6" y2="327.6" stroke="#151515" stroke-width="2.2"/>
<line x1="488" y1="326.8" x2="504.8" y2="324.5" stroke="#151515" stroke-width="1.2"/>
<line x1="481.2" y1="331" x2="482.4" y2="456" stroke="#151515" stroke-width="1.1"/>
<line x1="488.2" y1="326.8" x2="489.6" y2="456" stroke="#151515" stroke-width="1"/>
<line x1="504.7" y1="310" x2="506.6" y2="466.2" stroke="#151515" stroke-width="1.2"/>
<line x1="482" y1="418.2" x2="546" y2="417.8" stroke="#151515" stroke-width="0.9"/>
<polyline points="482.2,455.6 489.6,455.8 489.6,460 506.6,460" fill="none" stroke="#151515" stroke-width="1.1" stroke-linejoin="miter"/>
<polyline points="482,455 481.8,460.4 484.2,460.4 484.2,466.2 506.6,466.2" fill="none" stroke="#151515" stroke-width="1.9" stroke-linejoin="miter"/>
<line x1="487.3" y1="462.6" x2="502.2" y2="462.6" stroke="#151515" stroke-width="2.2"/>
<ellipse cx="412.7" cy="383.8" rx="15.6" ry="15.3" fill="none" stroke="#151515" stroke-width="1.4"/>
<line x1="396" y1="383.5" x2="431.6" y2="383.5" stroke="#151515" stroke-width="1"/>
<line x1="431.6" y1="383.5" x2="485" y2="332" stroke="#151515" stroke-width="1.1"/>
<text class="s" transform="translate(407.2 380.7) scale(0.901 1)" font-size="11.57">20</text>
<text class="s" transform="translate(408.8 394.8) scale(0.787 1)" font-size="11.43">23</text>
<ellipse cx="414.4" cy="419.4" rx="15.6" ry="15.3" fill="none" stroke="#151515" stroke-width="1.4"/>
<line x1="397.2" y1="420.2" x2="450" y2="420.2" stroke="#151515" stroke-width="1"/>
<line x1="450" y1="420.2" x2="482.4" y2="453.5" stroke="#151515" stroke-width="1.1"/>
<text transform="translate(405.9 418.5) scale(0.800 1)" font-size="12.71" letter-spacing="0.38">24б</text>
<text class="s" transform="translate(411.7 431.7) scale(0.818 1)" font-size="11.43">23</text>
<polyline points="497.3,326 520,361 520,419 499,459.7" fill="none" stroke="#151515" stroke-width="1.1" stroke-linejoin="miter"/>
<text class="s" transform="translate(517.8 417) rotate(-90) scale(0.780 1)" font-size="10.29" letter-spacing="1.56">АБНР1-36-2б</text>
<line x1="508.4" y1="310" x2="561" y2="310" stroke="#151515" stroke-width="0.9"/>
<line x1="506" y1="328.5" x2="561" y2="328.5" stroke="#151515" stroke-width="0.9"/>
<line x1="557.3" y1="303.5" x2="559.5" y2="469" stroke="#151515" stroke-width="0.9"/>
<line x1="540" y1="325.5" x2="541.2" y2="471.5" stroke="#151515" stroke-width="0.9"/>
<line x1="554.8" y1="312.6" x2="560" y2="307.4" stroke="#151515" stroke-width="1.1"/>
<line x1="555" y1="331.1" x2="560.2" y2="325.9" stroke="#151515" stroke-width="1.1"/>
<line x1="537.4" y1="331.1" x2="542.6" y2="325.9" stroke="#151515" stroke-width="1.1"/>
<line x1="538.2" y1="420.6" x2="543.4" y2="415.4" stroke="#151515" stroke-width="1.1"/>
<text class="d" transform="translate(553.6 326) rotate(-90) scale(0.718 1)" font-size="10.86">315</text>
<text class="d" transform="translate(538 383) rotate(-90) scale(0.740 1)" font-size="10.57">1510</text>
<text class="d" transform="translate(555 410) rotate(-90) scale(0.928 1)" font-size="11.43">2220</text>
<text class="d" transform="translate(538.5 452) rotate(-90) scale(0.950 1)" font-size="10" letter-spacing="0.08">825</text>
<text class="d" transform="translate(555 466) rotate(-90) scale(0.806 1)" font-size="10">115</text>
<line x1="503" y1="457.2" x2="562" y2="457.2" stroke="#151515" stroke-width="0.9"/>
<line x1="519" y1="466.3" x2="562" y2="466.3" stroke="#151515" stroke-width="0.9"/>
<line x1="539.1" y1="459.2" x2="543.1" y2="455.2" stroke="#151515" stroke-width="1.1"/>
<line x1="557.4" y1="459.2" x2="561.4" y2="455.2" stroke="#151515" stroke-width="1.1"/>
<line x1="539.2" y1="468.3" x2="543.2" y2="464.3" stroke="#151515" stroke-width="1.1"/>
<line x1="557.5" y1="468.3" x2="561.5" y2="464.3" stroke="#151515" stroke-width="1.1"/>
<line x1="520.6" y1="455.4" x2="520.6" y2="469.7" stroke="#151515" stroke-width="0.9"/>
<line x1="510.3" y1="462.5" x2="526.4" y2="462.5" stroke="#151515" stroke-width="0.9"/>
<line x1="519" y1="464.1" x2="522.2" y2="460.9" stroke="#151515" stroke-width="1.1"/>
<line x1="519" y1="467.9" x2="522.2" y2="464.7" stroke="#151515" stroke-width="1.1"/>
<text class="d" transform="translate(517.8 475.2) rotate(-90) scale(0.759 1)" font-size="9.71">25</text>
<line x1="482.6" y1="472.8" x2="483.4" y2="542" stroke="#151515" stroke-width="0.9"/>
<line x1="506.6" y1="474.6" x2="507" y2="542" stroke="#151515" stroke-width="0.9"/>
<line x1="480.5" y1="505" x2="509.5" y2="505" stroke="#151515" stroke-width="0.9"/>
<line x1="480.8" y1="507.2" x2="485.2" y2="502.8" stroke="#151515" stroke-width="1.1"/>
<line x1="504.6" y1="507.2" x2="509" y2="502.8" stroke="#151515" stroke-width="1.1"/>
<text class="d" transform="translate(488 502) scale(0.899 1)" font-size="10">300</text>
<line x1="480.5" y1="519.4" x2="509.5" y2="519.4" stroke="#151515" stroke-width="0.9"/>
<line x1="480.8" y1="521.6" x2="485.2" y2="517.2" stroke="#151515" stroke-width="1.1"/>
<line x1="504.6" y1="521.6" x2="509" y2="517.2" stroke="#151515" stroke-width="1.1"/>
<text class="d" transform="translate(490 517) scale(0.923 1)" font-size="10">350</text>
<line x1="480.5" y1="534" x2="509.5" y2="534" stroke="#151515" stroke-width="0.9"/>
<line x1="480.8" y1="536.2" x2="485.2" y2="531.8" stroke="#151515" stroke-width="1.1"/>
<line x1="504.6" y1="536.2" x2="509" y2="531.8" stroke="#151515" stroke-width="1.1"/>
<text class="d" transform="translate(489 532.4) scale(0.907 1)" font-size="10.57">400</text>
</svg>
</body>
</html>
